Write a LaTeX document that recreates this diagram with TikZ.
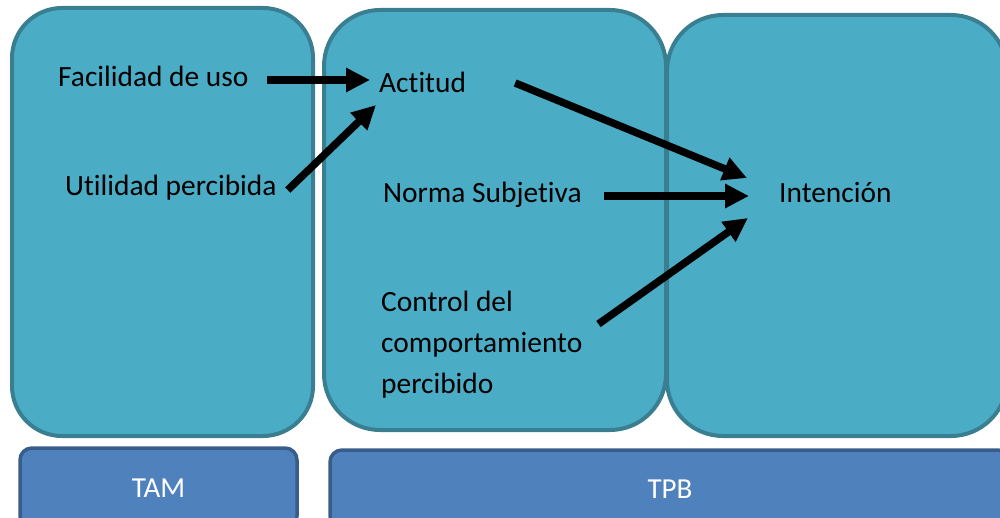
\documentclass[tikz,border=0pt]{standalone}
\usepackage{fontspec}
\setmainfont[Ligatures={NoCommon}]{Carlito}
\usetikzlibrary{arrows.meta,calc}
\definecolor{boxfill}{RGB}{75,172,198}
\definecolor{boxline}{RGB}{57,127,145}
\definecolor{tagfill}{RGB}{79,129,189}
\definecolor{tagline}{RGB}{56,93,138}
\tikzset{
  bigbox/.style={draw=boxline, fill=boxfill, line width=4pt, rectangle, inner sep=0pt},
  tagbox/.style={draw=tagline, fill=tagfill, line width=3.5pt, rectangle, rounded corners=12pt, inner sep=0pt, text=white, font=\fontsize{29}{35}\selectfont},
  lbl/.style={inner sep=0pt, anchor=base west, font=\fontsize{29.4}{35}\selectfont},
  arr/.style={line width=7.5pt, -{Triangle[length=24pt,width=23pt]}}
}
\begin{document}
\begin{tikzpicture}[x=1pt,y=-1pt]
\useasboundingbox (0,0) rectangle (1000,518);
\clip (0,0) rectangle (1000,518);
% big rounded boxes
\node[bigbox, rounded corners=50pt, minimum width=301pt, minimum height=428pt] (tamb) at (162.5,222) {};
\node[bigbox, rounded corners=56pt, minimum width=342pt, minimum height=420pt] (tpbb) at (495,220) {};
\node[bigbox, rounded corners=56pt, minimum width=340pt, minimum height=421pt] (intb) at (837,225.5) {};
% bottom tags
\node[tagbox, minimum width=277pt, minimum height=80pt] (tam) at (158.5,488) {TAM};
\node[tagbox, minimum width=680pt, minimum height=78pt] (tpb) at (670,489) {TPB};
% labels
\node[lbl] (fac) at (58,87) {Facilidad de uso};
\node[lbl] (util) at (65,196) {Utilidad percibida};
\node[lbl] (act) at (379,93) {Actitud};
\node[lbl] (norm) at (383,203) {Norma Subjetiva};
\node[lbl] (int) at (779,203) {Intención};
\node[inner sep=0pt, anchor=north west, align=left, font=\fontsize{29.4}{41}\selectfont] (ctrl) at (381,291) {Control del\\comportamiento\\percibido};
% arrows
\draw[arr] ($(fac.base east)+(18,-7)$) -- ($(act.base west)+(-9,-13)$);
\draw[arr] ($(util.base east)+(11,-6)$) -- ($(act.base west)+(-3,12)$);
\draw[arr] ($(act.base east)+(49,-10)$) -- ($(int.base west)+(-32,-25)$);
\draw[arr] ($(norm.base east)+(22,-7)$) -- ($(int.base west)+(-30,-7)$);
\draw[arr] ($(ctrl.north east)+(16,33)$) -- ($(int.base west)+(-31,15)$);
\end{tikzpicture}
\end{document}
